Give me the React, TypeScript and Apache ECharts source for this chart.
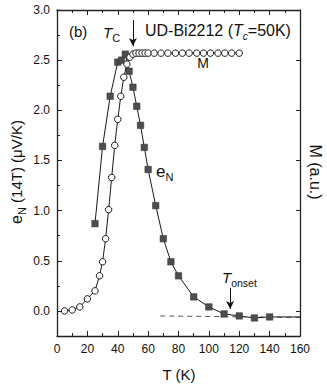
import React, { useEffect, useRef } from 'react';
import * as echarts from 'echarts';

// e_N (filled squares)
const eNTemps = [25, 30, 35, 40, 42.5, 45, 47.5, 50, 52.5, 55, 57.5, 60, 65, 70, 75, 80, 90, 100, 110, 120, 130, 140, 160];
const eNValues = [0.87, 1.64, 2.14, 2.48, 2.50, 2.56, 2.39, 2.23, 2.04, 1.85, 1.63, 1.41, 1.05, 0.72, 0.49, 0.35, 0.14, 0.04, -0.03, -0.05, -0.07, -0.06, -0.06];

// M (open circles)
const mTemps = [5, 10, 15, 20, 25, 28, 30, 32, 34, 36, 38, 40, 42, 44, 46, 48, 50, 52, 54, 56, 58, 60, 64, 68.5, 73, 78, 82.5, 87, 92, 96.5, 101, 106, 110.5, 115, 120];
const mValues = [0.00, 0.01, 0.04, 0.12, 0.20, 0.35, 0.49, 0.72, 1.01, 1.33, 1.65, 1.91, 2.14, 2.33, 2.46, 2.53, 2.56, 2.57, 2.57, 2.57, 2.57, 2.57, 2.57, 2.57, 2.57, 2.57, 2.57, 2.57, 2.57, 2.57, 2.57, 2.57, 2.57, 2.57, 2.57];

// dashed background line
const dashTemps = [68, 160];
const dashValues = [-0.05, -0.065];

// arrows (T_c and T_onset)
const tcArrow = [[50, 2.9], [50, 2.64]];
const onsetArrow = [[114, 0.23], [114, 0.02]];

const yTickLabels = [0, 0.5, 1.0, 1.5, 2.0, 2.5, 3.0];

const FF = '"Liberation Sans", Arial, sans-serif';
const INK = '#111';

export default function App() {
  const ref = useRef<HTMLDivElement>(null);
  useEffect(() => {
    if (!ref.current) return;
    const chart = echarts.init(ref.current, undefined, { renderer: 'svg' });
    const axisLine = { show: true, onZero: false, lineStyle: { color: '#222', width: 1.3 } };
    const tickStyle = { color: '#222', width: 1 };
    const xCommon = {
      type: 'value', min: 0, max: 160, interval: 20,
      axisLine,
      axisTick: { show: true, inside: true, length: 5, lineStyle: tickStyle },
      minorTick: { show: true, splitNumber: 2, length: 3, lineStyle: tickStyle },
      splitLine: { show: false },
      minorSplitLine: { show: false },
    };
    const yCommon = { type: 'value', min: -0.25, max: 3, interval: 0.25, splitLine: { show: false } };
    const txt = (x: number, y: number, text: string, size: number, extra: any = {}, el: any = {}) => ({
      type: 'text', x, y, silent: true, ...el,
      style: { text, fontSize: size, fontFamily: FF, fill: INK, align: 'left', verticalAlign: 'middle', ...extra },
    });
    const option: any = {
      animation: false,
      grid: { left: 57, right: 27, top: 10, bottom: 49, containLabel: false },
      xAxis: [
        { ...xCommon, position: 'bottom',
          axisLabel: { show: true, fontSize: 12, color: INK, margin: 7, fontFamily: FF } },
        { ...xCommon, position: 'top', axisLabel: { show: false } },
      ],
      yAxis: [
        { ...yCommon, position: 'left', axisLine,
          axisTick: { show: true, inside: true, length: 3, lineStyle: tickStyle },
          axisLabel: { show: true, customValues: yTickLabels, formatter: (v: number) => v.toFixed(1), fontSize: 12, color: INK, margin: 7, fontFamily: FF } },
        { ...yCommon, position: 'left', axisLine: { show: false },
          axisTick: { show: true, inside: true, length: 5, customValues: yTickLabels, lineStyle: tickStyle },
          axisLabel: { show: false } },
        { ...yCommon, position: 'right', axisLine,
          axisTick: { show: true, inside: true, length: 4, customValues: yTickLabels, lineStyle: tickStyle },
          axisLabel: { show: false } },
      ],
      series: [
        { type: 'line', data: dashTemps.map((t, i) => [t, dashValues[i]]), symbol: 'none', silent: true,
          lineStyle: { color: '#555', width: 1, type: [5, 4] }, z: 1 },
        { type: 'line', data: eNTemps.map((t, i) => (i === eNTemps.length - 1 ? { value: [t, eNValues[i]], symbol: 'none' } : [t, eNValues[i]])),
          symbol: 'rect', symbolSize: 6.5, silent: true,
          itemStyle: { color: '#4d4d4d', borderColor: '#333', borderWidth: 0.5 },
          lineStyle: { color: '#1a1a1a', width: 1 }, z: 2 },
        { type: 'line', yAxisIndex: 2, data: mTemps.map((t, i) => [t, mValues[i]]),
          symbol: 'circle', symbolSize: 6.5, silent: true,
          itemStyle: { color: '#fff', borderColor: '#1a1a1a', borderWidth: 1 },
          lineStyle: { color: '#1a1a1a', width: 1 }, z: 3 },
        { type: 'line', data: [], silent: true,
          markLine: { silent: true, symbol: ['none', 'arrow'], symbolSize: [6, 8], animation: false,
            label: { show: false }, emphasis: { disabled: true },
            lineStyle: { color: INK, width: 1, type: 'solid' },
            data: [
              [{ coord: tcArrow[0] }, { coord: tcArrow[1] }],
              [{ coord: onsetArrow[0] }, { coord: onsetArrow[1] }],
            ] } },
      ],
      graphic: [
        txt(69, 31, '(b)', 15),
        txt(103, 32, '{i|T}{s|C}', 15, { rich: {
          i: { fontSize: 15, fontStyle: 'italic', fontFamily: FF, fill: INK, lineHeight: 22, verticalAlign: 'middle' },
          s: { fontSize: 11, fontFamily: FF, fill: INK, lineHeight: 11, verticalAlign: 'bottom' } } }),
        txt(145, 30, '{n|UD-Bi2212 (}{i|T}{s|c}{n|=50K)}', 16, { rich: {
          n: { fontSize: 16, fontFamily: FF, fill: INK, lineHeight: 22, verticalAlign: 'middle' },
          i: { fontSize: 16, fontStyle: 'italic', fontFamily: FF, fill: INK, lineHeight: 22, verticalAlign: 'middle' },
          s: { fontSize: 10, fontStyle: 'italic', fontFamily: FF, fill: INK, lineHeight: 10, verticalAlign: 'bottom' } } }),
        txt(203, 63, 'M', 14, { align: 'center' }),
        txt(156, 171, '{e|e}{s|N}', 17, { rich: {
          e: { fontSize: 17, fontFamily: FF, fill: INK, lineHeight: 22, verticalAlign: 'middle' },
          s: { fontSize: 11, fontFamily: FF, fill: INK, lineHeight: 11, verticalAlign: 'bottom' } } }),
        txt(222, 277, '{i|T}{s|onset}', 15, { rich: {
          i: { fontSize: 15, fontStyle: 'italic', fontFamily: FF, fill: INK, lineHeight: 22, verticalAlign: 'middle' },
          s: { fontSize: 10.5, fontFamily: FF, fill: INK, lineHeight: 10.5, verticalAlign: 'bottom' } } }),
        txt(179, 374, 'T (K)', 15, { align: 'center' }),
        txt(16, 172, '{e|e}{s|N}{n| (14T) (\u03bcV/K)}', 15, { align: 'center', rich: {
          e: { fontSize: 16, fontFamily: FF, fill: INK, lineHeight: 22, verticalAlign: 'middle' },
          s: { fontSize: 11, fontFamily: FF, fill: INK, lineHeight: 11, verticalAlign: 'bottom' },
          n: { fontSize: 15, fontFamily: FF, fill: INK, lineHeight: 22, verticalAlign: 'middle' } } },
          { rotation: Math.PI / 2 }),
        txt(315, 172, 'M (a.u.)', 16, { align: 'center' }, { rotation: -Math.PI / 2 }),
      ],
    };
    chart.setOption(option);
    return () => chart.dispose();
  }, []);
  return <div ref={ref} style={{ width: 327, height: 385, position: 'absolute', left: 0, top: 0, background: '#fff' }} />;
}
